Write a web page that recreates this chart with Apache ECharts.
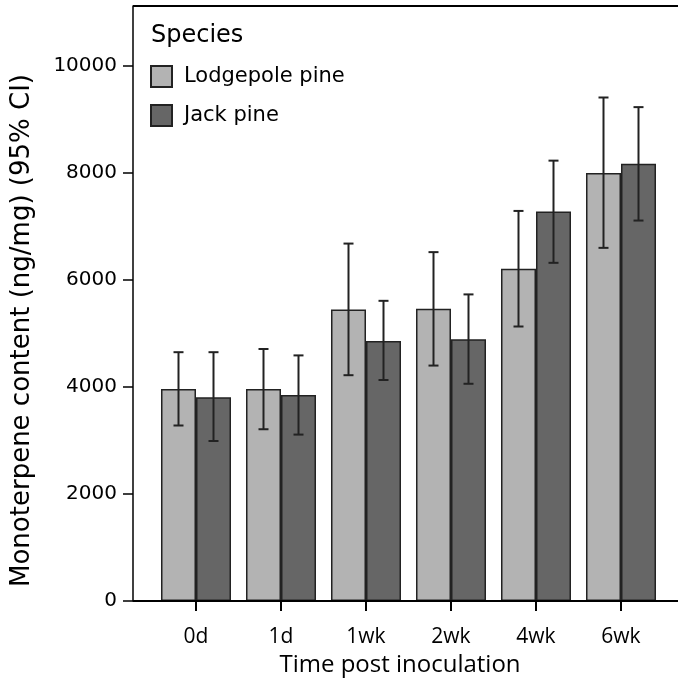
<!DOCTYPE html>
<html>
<head>
<meta charset="utf-8">
<script src="https://cdn.jsdelivr.net/npm/echarts@6/dist/echarts.min.js"></script>
<style>
  html, body { margin: 0; padding: 0; background: #fff; }
  #chart { width: 679px; height: 696px; }
</style>
</head>
<body>
<div id="chart"></div>
<script>
// data (ng/mg, mean and 95% CI)
const categories = ['0d', '1d', '1wk', '2wk', '4wk', '6wk'];
const lodgepole = [3960, 3960, 5450, 5460, 6210, 8000];
const lodgepoleLow = [3280, 3210, 4220, 4400, 5130, 6600];
const lodgepoleHigh = [4650, 4710, 6680, 6520, 7290, 9410];
const jack = [3810, 3850, 4860, 4890, 7280, 8170];
const jackLow = [2990, 3110, 4130, 4060, 6320, 7110];
const jackHigh = [4650, 4590, 5610, 5730, 8230, 9230];
const yTicks = [0, 2000, 4000, 6000, 8000, 10000];

const sans = 'DejaVu Sans';
const humanist = 'Open Sans';
const barW = 35;
const yMax = 11120;

const chart = echarts.init(document.getElementById('chart'));

function errorBars(low, high, shift) {
    return {
        type: 'custom',
        silent: true,
        z: 5,
        data: categories.map((c, i) => [i, low[i], high[i]]),
        renderItem: (params, api) => {
            const lo = api.coord([api.value(0), api.value(1)]);
            const hi = api.coord([api.value(0), api.value(2)]);
            const x = lo[0] + shift;
            const cap = 5;
            const st = { stroke: '#222', lineWidth: 2 };
            return {
                type: 'group',
                children: [
                    { type: 'line', shape: { x1: x, y1: lo[1], x2: x, y2: hi[1] }, style: st },
                    { type: 'line', shape: { x1: x - cap, y1: lo[1], x2: x + cap, y2: lo[1] }, style: st },
                    { type: 'line', shape: { x1: x - cap, y1: hi[1], x2: x + cap, y2: hi[1] }, style: st }
                ]
            };
        }
    };
}

chart.setOption({
    animation: false,
    backgroundColor: '#fff',
    grid: { left: 153.5, right: 15.5, top: 6, bottom: 95 },
    title: {
        text: 'Species',
        left: 146,
        top: 19,
        textStyle: { fontFamily: sans, fontSize: 24, fontWeight: 'normal', color: '#000' }
    },
    legend: {
        orient: 'vertical',
        left: 145,
        top: 60,
        itemWidth: 21,
        itemHeight: 21,
        itemGap: 16,
        icon: 'rect',
        selectedMode: false,
        textStyle: { fontFamily: sans, fontSize: 21, color: '#000', padding: [0, 0, 0, 7] },
        data: ['Lodgepole pine', 'Jack pine']
    },
    xAxis: {
        type: 'category',
        data: categories,
        axisLine: { show: false },
        axisTick: { show: true, alignWithLabel: true, length: 10, lineStyle: { color: '#000', width: 2 } },
        axisLabel: { fontFamily: humanist, fontSize: 21, color: '#000', margin: 26 },
        name: 'Time post inoculation',
        nameLocation: 'middle',
        nameGap: 51,
        nameTextStyle: { fontFamily: humanist, fontSize: 24, color: '#000', padding: [0, 17, 0, 0] }
    },
    yAxis: {
        type: 'value',
        min: 0,
        max: yMax,
        interval: 2000,
        offset: 20.5,
        splitLine: { show: false },
        axisLine: { show: true, lineStyle: { color: '#000', width: 1.5 } },
        axisTick: { show: true, length: 10, lineStyle: { color: '#000', width: 1.5 } },
        axisLabel: {
            fontFamily: sans, fontSize: 20, color: '#000', margin: 16,
            showMaxLabel: false,
            formatter: v => (yTicks.indexOf(v) >= 0 ? String(v) : '')
        },
        name: 'Monoterpene content (ng/mg) (95% CI)',
        nameLocation: 'middle',
        nameGap: 98,
        nameTextStyle: { fontFamily: sans, fontSize: 26, color: '#000', padding: [0, 54, 0, 0] }
    },
    series: [
        {
            name: 'Lodgepole pine',
            type: 'bar',
            data: lodgepole,
            barWidth: barW,
            barGap: '0%',
            itemStyle: { color: '#b3b3b3', borderColor: '#222', borderWidth: 1.5 }
        },
        {
            name: 'Jack pine',
            type: 'bar',
            data: jack,
            barWidth: barW,
            barGap: '0%',
            itemStyle: { color: '#666666', borderColor: '#222', borderWidth: 1.5 }
        },
        errorBars(lodgepoleLow, lodgepoleHigh, -barW / 2),
        errorBars(jackLow, jackHigh, barW / 2)
    ]
});

// frame: bottom axis line and top border, from the y axis to the right edge
const yBottom = chart.convertToPixel({ yAxisIndex: 0 }, 0);
const yTop = chart.convertToPixel({ yAxisIndex: 0 }, yMax);
chart.setOption({
    graphic: [
        { type: 'line', shape: { x1: 133, y1: yBottom, x2: 678, y2: yBottom }, style: { stroke: '#000', lineWidth: 2 }, z: 10 },
        { type: 'line', shape: { x1: 133, y1: yTop, x2: 678, y2: yTop }, style: { stroke: '#000', lineWidth: 2 }, z: 10 }
    ]
});
</script>
</body>
</html>
